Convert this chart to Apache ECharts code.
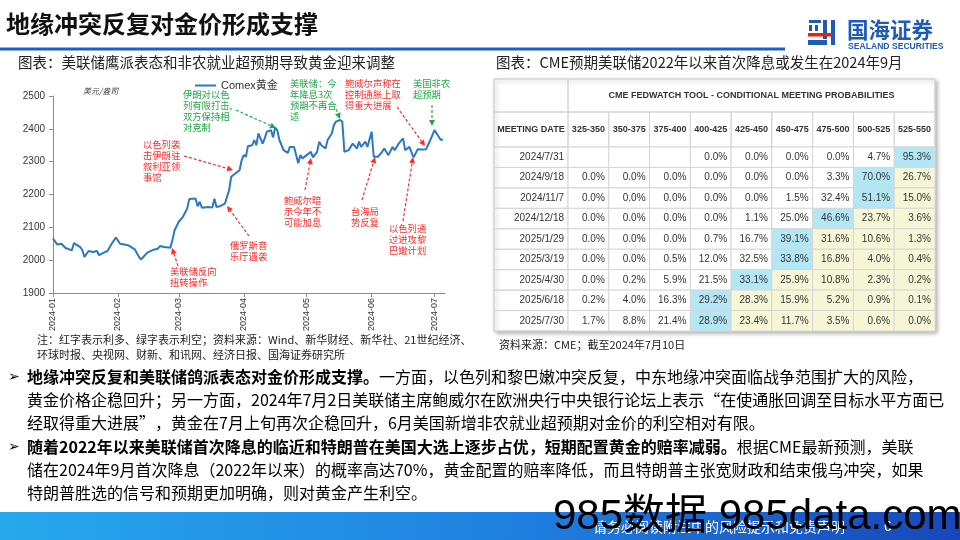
<!DOCTYPE html>
<html><head><meta charset="utf-8">
<script src="https://cdn.jsdelivr.net/npm/echarts@6/dist/echarts.min.js"></script>
<style>html,body{margin:0;padding:0;background:#fff}#c{width:960px;height:540px}</style>
</head><body><div id="c"></div>
<script>
// ---------- DATA ----------
const goldDates = ['2024-01-01','2024-01-03','2024-01-05','2024-01-07','2024-01-10','2024-01-11','2024-01-14','2024-01-15','2024-01-16','2024-01-18','2024-01-20','2024-01-22','2024-01-23','2024-01-25','2024-01-27','2024-01-29','2024-01-31',
'2024-02-02','2024-02-04','2024-02-06','2024-02-09','2024-02-11','2024-02-12','2024-02-15','2024-02-18','2024-02-20','2024-02-21','2024-02-23','2024-02-26','2024-02-27','2024-02-28',
'2024-03-01','2024-03-03','2024-03-05','2024-03-06','2024-03-09','2024-03-10','2024-03-11','2024-03-12','2024-03-15','2024-03-17','2024-03-18','2024-03-19','2024-03-21','2024-03-23','2024-03-25','2024-03-26','2024-03-28','2024-03-30','2024-03-31',
'2024-04-01','2024-04-02','2024-04-03','2024-04-05','2024-04-06','2024-04-07','2024-04-08','2024-04-10','2024-04-11','2024-04-12','2024-04-14','2024-04-15','2024-04-16','2024-04-17','2024-04-18','2024-04-20','2024-04-22','2024-04-23','2024-04-25','2024-04-27','2024-04-28','2024-04-29',
'2024-05-01','2024-05-03','2024-05-04','2024-05-06','2024-05-07','2024-05-08','2024-05-10','2024-05-11','2024-05-13','2024-05-14','2024-05-15','2024-05-17','2024-05-18','2024-05-19','2024-05-21','2024-05-22','2024-05-23','2024-05-25','2024-05-26','2024-05-27','2024-05-29','2024-05-30',
'2024-06-01','2024-06-02','2024-06-04','2024-06-06','2024-06-07','2024-06-09','2024-06-11','2024-06-12','2024-06-14','2024-06-16','2024-06-17','2024-06-19','2024-06-21','2024-06-23','2024-06-25','2024-06-27','2024-06-29',
'2024-07-01','2024-07-02','2024-07-04','2024-07-05'];
const goldPrices = [2066,2048,2050,2037,2030,2052,2040,2030,2010,2028,2025,2028,2015,2022,2028,2050,2069,
2050,2048,2045,2033,2010,2002,2023,2032,2035,2043,2040,2038,2062,2091,
2117,2132,2157,2186,2188,2164,2178,2160,2162,2160,2187,2162,2165,2172,2213,2254,2264,2274,2305,
2320,2315,2347,2350,2366,2350,2386,2355,2371,2391,2396,2374,2404,2396,2366,2335,2327,2345,2345,2295,2320,2310,
2320,2330,2313,2330,2361,2350,2340,2366,2386,2412,2422,2427,2422,2330,2335,2345,2355,2340,2361,2345,2361,2345,
2391,2315,2315,2330,2340,2320,2345,2335,2356,2371,2335,2345,2313,2338,2337,2338,2366,
2396,2386,2366,2368];
const axisStart = '2024-01-01', axisEnd = '2024-07-06';
const yMin = 1900, yMax = 2500, yStep = 100;

const rateRanges = ['325-350','350-375','375-400','400-425','425-450','450-475','475-500','500-525','525-550'];
const meetingDates = ['2024/7/31','2024/9/18','2024/11/7','2024/12/18','2025/1/29','2025/3/19','2025/4/30','2025/6/18','2025/7/30'];
const probabilities = [
  [null,null,null,0.0,0.0,0.0,0.0,4.7,95.3],
  [0.0,0.0,0.0,0.0,0.0,0.0,3.3,70.0,26.7],
  [0.0,0.0,0.0,0.0,0.0,1.5,32.4,51.1,15.0],
  [0.0,0.0,0.0,0.0,1.1,25.0,46.6,23.7,3.6],
  [0.0,0.0,0.0,0.7,16.7,39.1,31.6,10.6,1.3],
  [0.0,0.0,0.5,12.0,32.5,33.8,16.8,4.0,0.4],
  [0.0,0.2,5.9,21.5,33.1,25.9,10.8,2.3,0.2],
  [0.2,4.0,16.3,29.2,28.3,15.9,5.2,0.9,0.1],
  [1.7,8.8,21.4,28.9,23.4,11.7,3.5,0.6,0.0]
];

// ---------- HELPERS ----------
const CJK = '"Noto Sans CJK SC", sans-serif';
const ARIAL = '"Liberation Sans", Arial, sans-serif';
const RED = '#ff2b2b', GREEN = '#23a847';

function dayList(a, b) {
  const out = []; let d = new Date(a + 'T00:00:00Z'); const e = new Date(b + 'T00:00:00Z');
  while (d <= e) { out.push(d.toISOString().slice(0, 10)); d = new Date(d.getTime() + 86400000); }
  return out;
}
const days = dayList(axisStart, axisEnd);
const isMonthStart = (i, v) => v.slice(8) === '01';

function txt(x, y, text, o) {
  o = o || {};
  return { type: 'text', z: o.z || 20, style: Object.assign({ x, y, text, fontSize: 12, fontFamily: CJK, fill: '#222', align: 'left', verticalAlign: 'middle' }, o.style || {}) };
}
function arrow(x1, y1, x2, y2, color) {
  const a = Math.atan2(y2 - y1, x2 - x1), L = 6, W = 3;
  const bx = x2 - L * Math.cos(a), by = y2 - L * Math.sin(a);
  return [
    { type: 'line', z: 15, shape: { x1, y1, x2: bx, y2: by }, style: { stroke: color, lineWidth: 1.2, lineDash: [3, 2] } },
    { type: 'polygon', z: 15, shape: { points: [[x2, y2], [bx + W * Math.sin(a), by - W * Math.cos(a)], [bx - W * Math.sin(a), by + W * Math.cos(a)]] }, style: { fill: color } }
  ];
}
function note(x, y, text, color) {
  return txt(x, y, text, { style: { fontSize: 9.3, lineHeight: 11, fill: color, verticalAlign: 'top', fontFamily: CJK } });
}

// ---------- TABLE GEOMETRY ----------
const tL = 568, tR = 935, tTop = 147, tBot = 331, tOuterL = 494, tH1 = 79, tH2 = 112;
const colW = (tR - tL) / rateRanges.length, rowH = (tBot - tTop) / meetingDates.length;

const cellData = [], cellText = [], cellHl = [];
probabilities.forEach((row, r) => {
  let maxI = 0; row.forEach((v, i) => { if (v != null && (row[maxI] == null || v > row[maxI])) maxI = i; });
  row.forEach((v, c) => {
    cellData.push([c, r]);
    cellText.push(v == null ? '' : v.toFixed(1) + '%');
    cellHl.push(c === maxI ? 1 : (c > maxI ? 2 : 0));
  });
});

// ---------- GRAPHICS ----------
const g = [];
// title + rule
g.push(txt(6, 24, '地缘冲突反复对金价形成支撑', { style: { fontSize: 24, fontWeight: 'bold', fill: '#111' } }));
g.push({ type: 'rect', z: 5, shape: { x: 0, y: 47.5, width: 785, height: 3 }, style: { fill: '#1f5fbf' } });
// logo
const LB = '#1d5bb6', LR = '#e2231a';
[[809, 20, 12, 3], [809, 25, 3, 6], [815, 25, 3, 6], [823, 20, 4, 19], [831, 20, 4, 25], [808, 40, 19, 5]].forEach(r =>
  g.push({ type: 'rect', z: 5, shape: { x: r[0], y: r[1], width: r[2], height: r[3] }, style: { fill: LB } }));
g.push({ type: 'rect', z: 6, shape: { x: 808, y: 33, width: 24, height: 3.5 }, style: { fill: LR } });
g.push(txt(847, 30, '国海证券', { style: { fontSize: 21.5, fontWeight: 'bold', fill: LB } }));
g.push(txt(848, 46.5, 'SEALAND SECURITIES', { style: { fontSize: 8.6, fontWeight: 'bold', fill: LB, fontFamily: ARIAL } }));

// chart captions
g.push(txt(18, 62, '图表：美联储鹰派表态和非农就业超预期导致黄金迎来调整', { style: { fontSize: 14.5 } }));
g.push(txt(496, 62, '图表：CME预期美联储2022年以来首次降息或发生在2024年9月', { style: { fontSize: 14.5 } }));
g.push(txt(83, 91, '美元/盎司', { style: { fontSize: 8, fill: '#444', fontStyle: 'italic' } }));
g.push(txt(37, 340, '注：红字表示利多、绿字表示利空；资料来源：Wind、新华财经、新华社、21世纪经济、', { style: { fontSize: 11 } }));
g.push(txt(37, 355, '环球时报、央视网、财新、和讯网、经济日报、国海证券研究所', { style: { fontSize: 11 } }));
g.push(txt(499, 345, '资料来源：CME；截至2024年7月10日', { style: { fontSize: 11 } }));

// annotations
g.push(note(183, 89, '伊朗对以色\n列有限打击,\n双方保持相\n对克制', GREEN));
g.push(...arrow(236, 110, 276, 128, GREEN));
g.push(note(290, 78, '美联储：今\n年降息3次\n预期不再合\n适', GREEN));
g.push(...arrow(336, 109, 340, 119, GREEN));
g.push(note(413, 78, '美国非农\n超预期', GREEN));
g.push(...arrow(432, 105, 432, 126, GREEN));
g.push(note(345, 78, '鲍威尔声称在\n控制通胀上取\n得重大进展', RED));
g.push(...arrow(397, 107, 425, 146, RED));
g.push(note(143, 139, '以色列袭\n击伊朗驻\n叙利亚领\n事馆', RED));
g.push(...arrow(184, 156, 233, 170, RED));
g.push(note(230, 240, '俄罗斯音\n乐厅遇袭', RED));
g.push(...arrow(249, 236, 227, 206, RED));
g.push(note(170, 266, '美联储反向\n扭转操作', RED));
g.push(...arrow(178, 266, 172, 248, RED));
g.push(note(284, 195, '鲍威尔暗\n示今年不\n可能加息', RED));
g.push(...arrow(305, 190, 311, 158, RED));
g.push(note(351, 206, '台海局\n势反复', RED));
g.push(...arrow(362, 200, 375, 157, RED));
g.push(note(389, 223, '以色列通\n过进攻黎\n巴嫩计划', RED));
g.push(...arrow(403, 221, 413, 157, RED));

// table frame
g.push({ type: 'rect', z: -10, shape: { x: tOuterL, y: tH1, width: tR - tOuterL, height: tBot - tH1 }, style: { fill: '#fff', stroke: '#cfcfcf', lineWidth: 1, shadowBlur: 4, shadowOffsetX: 2, shadowOffsetY: 2, shadowColor: 'rgba(0,0,0,0.3)' } });
const frameStroke = { stroke: '#d6d6d6', lineWidth: 1, fill: null };
g.push({ type: 'rect', z: 3, shape: { x: tOuterL, y: tH1, width: tL - tOuterL, height: tH2 - tH1 }, style: frameStroke });
g.push({ type: 'rect', z: 3, shape: { x: tL, y: tH1, width: tR - tL, height: tH2 - tH1 }, style: frameStroke });
g.push({ type: 'rect', z: 3, shape: { x: tOuterL, y: tH2, width: tL - tOuterL, height: tTop - tH2 }, style: frameStroke });
rateRanges.forEach((r, i) => g.push({ type: 'rect', z: 3, shape: { x: tL + i * colW, y: tH2, width: colW, height: tTop - tH2 }, style: frameStroke }));
meetingDates.forEach((d, i) => g.push({ type: 'rect', z: 3, shape: { x: tOuterL, y: tTop + i * rowH, width: tL - tOuterL, height: rowH }, style: frameStroke }));
g.push(txt((tL + tR) / 2, (tH1 + tH2) / 2, 'CME FEDWATCH TOOL - CONDITIONAL MEETING PROBABILITIES', { style: { fontSize: 9, fontWeight: 'bold', fontFamily: ARIAL, align: 'center', fill: '#333' } }));
g.push(txt((tOuterL + tL) / 2, (tH2 + tTop) / 2, 'MEETING DATE', { style: { fontSize: 9, fontWeight: 'bold', fontFamily: ARIAL, align: 'center', fill: '#333' } }));

// body text
const rich = {
  b: { fontSize: 16, fontWeight: 'bold', fontFamily: CJK, fill: '#000' },
  n: { fontSize: 16, fontFamily: CJK, fill: '#000' }
};
function para(y, s) { return { type: 'text', z: 20, style: { x: 27, y, text: s, rich, verticalAlign: 'middle', fontSize: 16, fontFamily: CJK } }; }
g.push(txt(8, 377, '➢', { style: { fontSize: 14, fill: '#000', fontFamily: '"DejaVu Sans", sans-serif' } }));
g.push(para(377, '{b|地缘冲突反复和美联储鸽派表态对金价形成支撑。}{n|一方面，以色列和黎巴嫩冲突反复，中东地缘冲突面临战争范围扩大的风险，}'));
g.push(para(400, '{n|黄金价格企稳回升；另一方面，2024年7月2日美联储主席鲍威尔在欧洲央行中央银行论坛上表示“在使通胀回调至目标水平方面已}'));
g.push(para(423, '{n|经取得重大进展”，黄金在7月上旬再次企稳回升，6月美国新增非农就业超预期对金价的利空相对有限。}'));
g.push(txt(8, 447, '➢', { style: { fontSize: 14, fill: '#000', fontFamily: '"DejaVu Sans", sans-serif' } }));
g.push(para(447, '{b|随着2022年以来美联储首次降息的临近和特朗普在美国大选上逐步占优，短期配置黄金的赔率减弱。}{n|根据CME最新预测，美联}'));
g.push(para(470, '{n|储在2024年9月首次降息（2022年以来）的概率高达70%，黄金配置的赔率降低，而且特朗普主张宽财政和结束俄乌冲突，如果}'));
g.push(para(493, '{n|特朗普胜选的信号和预期更加明确，则对黄金产生利空。}'));

// footer
g.push({ type: 'rect', z: 4, shape: { x: 0, y: 512, width: 960, height: 28 }, style: { fill: new echarts.graphic.LinearGradient(0, 0, 1, 0, [{ offset: 0, color: '#27a8ec' }, { offset: 0.55, color: '#1f7fe0' }, { offset: 1, color: '#1747b8' }]) } });
g.push(txt(593, 527, '请务必阅读附注中的风险提示和免责声明', { style: { fontSize: 14, fill: '#fff' } }));
g.push(txt(884, 527, '6', { style: { fontSize: 14, fill: '#fff', fontFamily: ARIAL } }));
g.push({ type: 'text', z: 30, style: { x: 553, y: 538, text: '985数据 985data.com', fontSize: 42, fontFamily: ARIAL + ',' + CJK, fill: '#000', verticalAlign: 'bottom' } });

// ---------- CHART ----------
const chart = echarts.init(document.getElementById('c'), null, { renderer: 'canvas' });
chart.setOption({
  backgroundColor: '#fff',
  animation: false,
  legend: { left: 190, top: 75, icon: 'rect', itemWidth: 21, itemHeight: 2, data: ['Comex黄金'], textStyle: { fontSize: 11, color: '#333', fontFamily: ARIAL + ',' + CJK } },
  grid: [
    { left: 53, top: 96, width: 392, height: 197 },
    { left: tL, top: tTop, width: tR - tL, height: tBot - tTop }
  ],
  xAxis: [
    { type: 'category', gridIndex: 0, data: days, boundaryGap: false,
      axisLine: { lineStyle: { color: '#8c8c8c' } },
      axisTick: { interval: isMonthStart, length: 4, lineStyle: { color: '#8c8c8c' } },
      axisLabel: { interval: isMonthStart, rotate: 90, fontSize: 9, color: '#333', margin: 5, fontFamily: ARIAL, formatter: v => v.slice(0, 7) },
      splitLine: { show: false } },
    { type: 'category', gridIndex: 1, data: rateRanges, position: 'top', z: 30,
      axisLine: { show: false }, axisTick: { show: false },
      axisLabel: { interval: 0, hideOverlap: false, fontSize: 9, fontWeight: 'bold', color: '#333', margin: 17, verticalAlign: 'middle', fontFamily: ARIAL } }
  ],
  yAxis: [
    { type: 'value', gridIndex: 0, min: yMin, max: yMax, interval: yStep,
      axisLine: { show: true, lineStyle: { color: '#8c8c8c' } },
      axisTick: { show: true, length: 4, lineStyle: { color: '#8c8c8c' } },
      axisLabel: { fontSize: 10, color: '#333', margin: 8, fontFamily: ARIAL, formatter: v => String(v) },
      splitLine: { show: false } },
    { type: 'category', gridIndex: 1, data: meetingDates, inverse: true, z: 30,
      axisLine: { show: false }, axisTick: { show: false },
      axisLabel: { interval: 0, fontSize: 10, color: '#333', margin: 4, fontFamily: ARIAL } }
  ],
  series: [
    { name: 'Comex黄金', type: 'line', xAxisIndex: 0, yAxisIndex: 0, showSymbol: false, symbol: 'none',
      data: goldDates.map((d, i) => [d, goldPrices[i]]),
      lineStyle: { color: '#2a78c8', width: 2 }, itemStyle: { color: '#2a78c8' } },
    { type: 'custom', xAxisIndex: 1, yAxisIndex: 1, data: cellData, z: 5,
      renderItem: (params, api) => {
        const i = params.dataIndex;
        const p = api.coord([api.value(0), api.value(1)]);
        const s = api.size([1, 1]);
        const hl = cellHl[i];
        const fill = hl === 1 ? '#b4e7f6' : hl === 2 ? '#f7f7d8' : '#ffffff';
        return { type: 'group', children: [
          { type: 'rect', shape: { x: p[0] - s[0] / 2, y: p[1] - s[1] / 2, width: s[0], height: s[1] }, style: { fill, stroke: '#d6d6d6', lineWidth: 1 } },
          { type: 'text', style: { x: p[0] + s[0] / 2 - 4, y: p[1], text: cellText[i], align: 'right', verticalAlign: 'middle', fontSize: 10, fill: '#333', fontFamily: ARIAL } }
        ] };
      } }
  ],
  graphic: { elements: g }
});
</script></body></html>
